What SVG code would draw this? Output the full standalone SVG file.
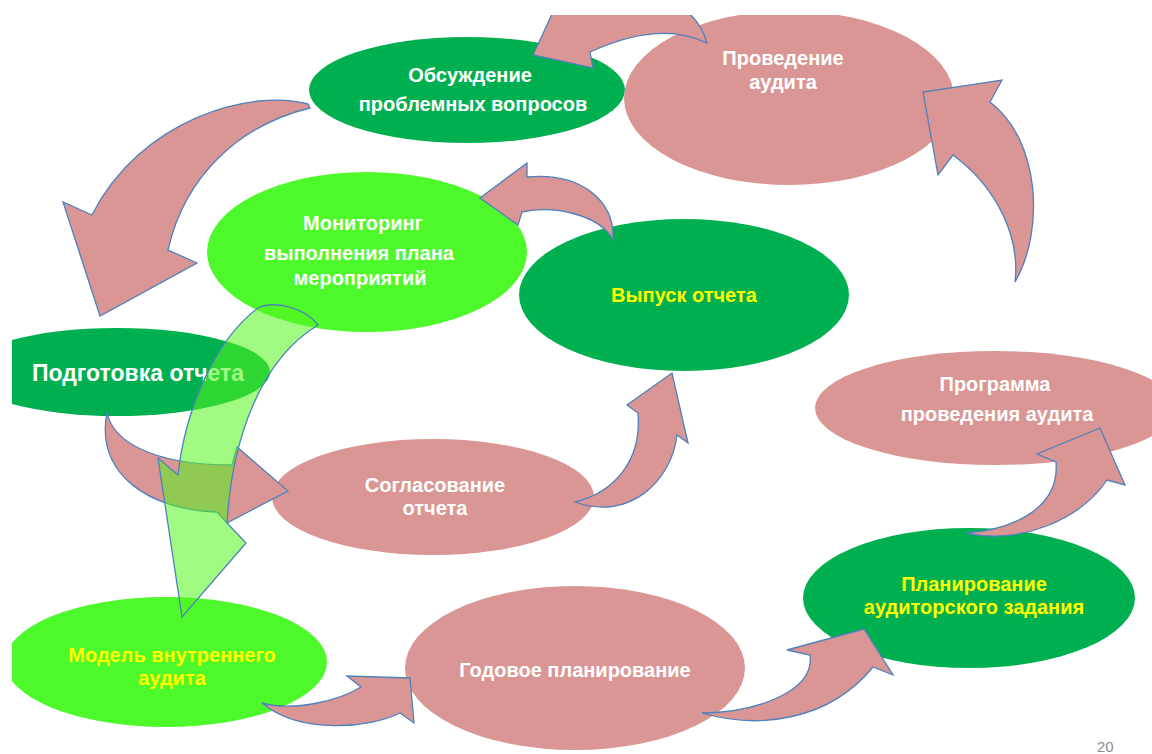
<svg xmlns="http://www.w3.org/2000/svg" width="1152" height="754" viewBox="0 0 1152 754">
<defs>
<clipPath id="page"><rect x="12" y="15" width="1140" height="739"/></clipPath>
<style>
.dg{fill:#00B050}
.lg{fill:#4EF92B}
.pk{fill:#D99694}
.t{font-family:"Liberation Sans",Arial,sans-serif;font-weight:bold;font-size:20px;text-anchor:middle}
.big{font-size:23px}
.w{fill:#FFFFFF}
.y{fill:#FFFF00}
.arr{fill:#D99694;stroke:#4F81BD;stroke-width:1.3;stroke-linejoin:miter}
.garr{fill:#53F61C;fill-opacity:0.55;stroke:#4F81BD;stroke-width:1.3}
</style>
</defs>
<rect width="1152" height="754" fill="#FFFFFF"/>
<g clip-path="url(#page)">
<g id="node-obsuzhdenie">
<ellipse class="dg" cx="467" cy="90" rx="158" ry="53"/>
<text class="t w" x="470" y="82">Обсуждение</text>
<text class="t w" x="473" y="111">проблемных вопросов</text>
</g>
<g id="node-provedenie">
<ellipse class="pk" cx="789" cy="98" rx="165" ry="87"/>
<text class="t w" x="783" y="65">Проведение</text>
<text class="t w" x="783" y="89">аудита</text>
</g>
<g id="node-monitoring">
<ellipse class="lg" cx="367" cy="252" rx="160" ry="80"/>
<text class="t w" x="363" y="230">Мониторинг</text>
<text class="t w" x="359" y="260">выполнения плана</text>
<text class="t w" x="360" y="285">мероприятий</text>
</g>
<g id="node-vypusk">
<ellipse class="dg" cx="684" cy="295" rx="165" ry="76"/>
<text class="t y" x="684" y="302">Выпуск отчета</text>
</g>
<g id="node-podgotovka">
<ellipse class="dg" cx="117" cy="372" rx="153" ry="44"/>
<text class="t w big" x="138" y="381">Подготовка отчета</text>
</g>
<g id="node-soglasovanie">
<ellipse class="pk" cx="433" cy="497" rx="161" ry="58"/>
<text class="t w" x="435" y="492">Согласование</text>
<text class="t w" x="435" y="515">отчета</text>
</g>
<g id="node-programma">
<ellipse class="pk" cx="995" cy="408" rx="180" ry="57"/>
<text class="t w" x="995" y="391">Программа</text>
<text class="t w" x="997" y="421">проведения аудита</text>
</g>
<g id="node-planirovanie">
<ellipse class="dg" cx="969" cy="598" rx="166" ry="70"/>
<text class="t y" x="974" y="591">Планирование</text>
<text class="t y" x="974" y="614">аудиторского задания</text>
</g>
<g id="node-model">
<ellipse class="lg" cx="166" cy="662" rx="161" ry="65"/>
<text class="t y" x="172" y="662">Модель внутреннего</text>
<text class="t y" x="172" y="685">аудита</text>
</g>
<g id="node-godovoe">
<ellipse class="pk" cx="575" cy="668" rx="170" ry="82"/>
<text class="t w" x="575" y="677">Годовое планирование</text>
</g>
<g id="connectors">
<path class="arr" d="M707,43 Q660,20 590,52 L593,68 L533,55 L553,12 L688,12 Q702,25 707,43 Z"/>
<path class="arr" d="M308,104 C250,88 140,120 92,215 L63,202 L100,316 L197,263 L168,250 C185,175 240,125 310,108 Z"/>
<path class="arr" d="M613,240 C615,200 580,172 527,177 L527,163 L480,198 L518,225 L522,212 C555,205 600,215 613,240 Z"/>
<path class="arr" d="M107,412 C112,440 150,465 232,465 L237,447 L288,491 L227,523 L217,512 C150,510 95,475 107,412 Z"/>
<path class="arr" d="M575,502 C615,492 642,460 638,413 L627,405 L672,373 L688,443 L677,435 C672,480 630,522 575,502 Z"/>
<path class="arr" d="M965,533 C1010,530 1060,510 1056,462 L1037,454 L1100,428 L1125,485 L1107,480 C1080,520 1020,545 965,533 Z"/>
<path class="arr" d="M702,713 C760,712 815,690 810,655 L787,650 L864,629 L893,675 L873,667 C830,720 760,730 702,713 Z"/>
<path class="arr" d="M262,703 C295,712 340,700 361,687 L347,676 L410,678 L414,723 L400,713 C370,728 300,735 262,703 Z"/>
<path class="arr" d="M1015,282 C1045,230 1040,140 990,102 L1002,80 L923,92 L938,175 L953,155 C1000,190 1020,240 1015,282 Z"/>
<path class="garr" d="M318,325 C305,308 275,300 258,308 C215,340 185,410 178,475 L158,458 L182,617 L246,543 L227,523 C232,440 260,360 318,325 Z"/>
</g>
</g>
<text x="1097" y="752" font-family="Liberation Sans,Arial,sans-serif" font-size="15" fill="#8C8C8C">20</text>
</svg>
